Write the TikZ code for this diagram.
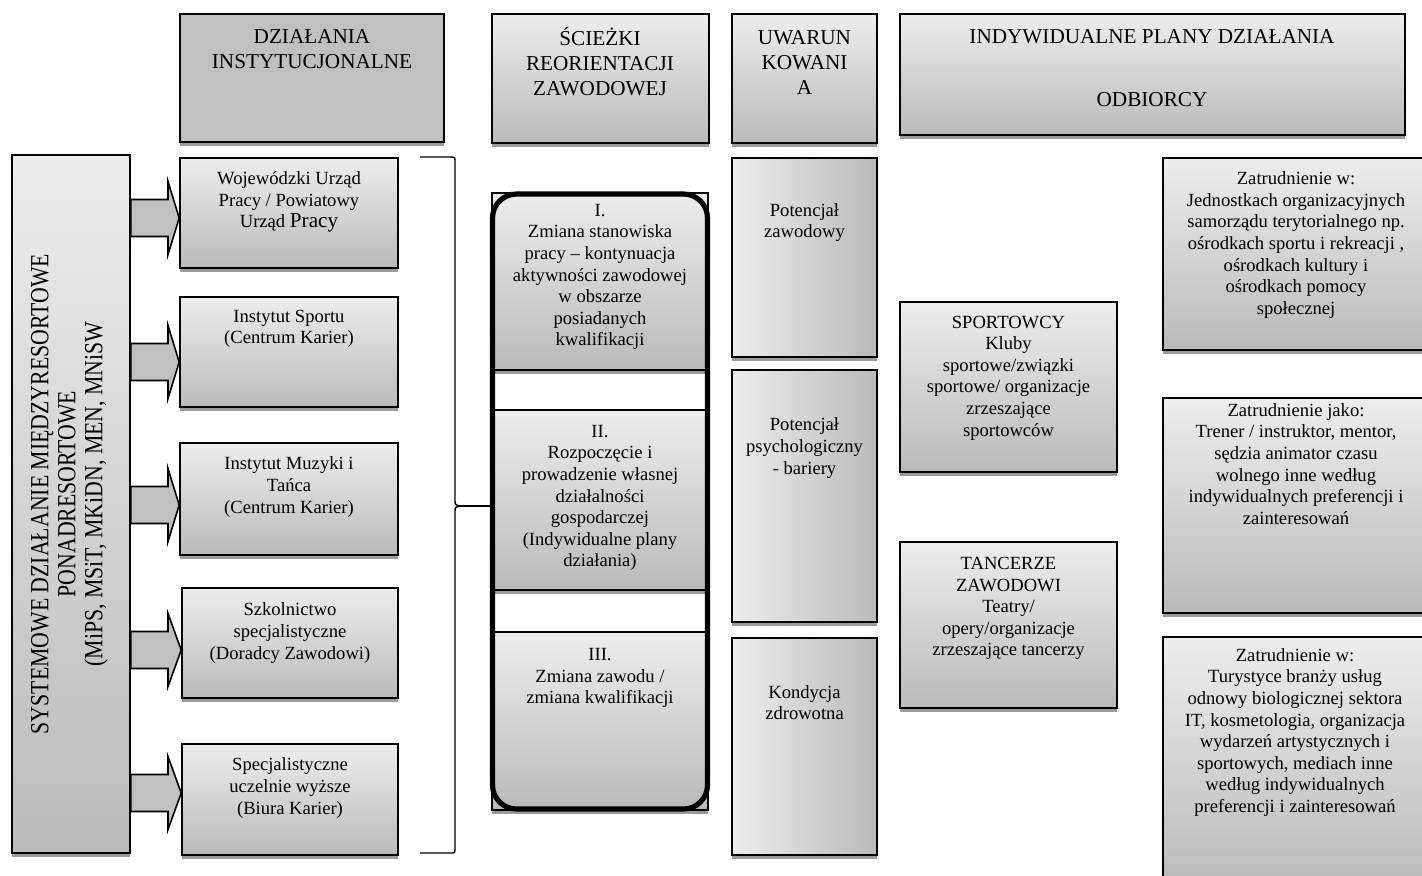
\documentclass[tikz,border=0pt]{standalone}
\usepackage{fontspec}
\setmainfont{Liberation Serif}
\usepackage{graphicx}
\usetikzlibrary{fit, shadows, positioning}

\definecolor{jasny}{RGB}{237,237,237}
\definecolor{ciemny}{RGB}{186,186,186}
\definecolor{szary}{RGB}{192,192,192}
\definecolor{cien}{RGB}{155,155,155}

\begin{document}
\begin{tikzpicture}[x=0.5pt, y=-0.5pt,
    pole/.style={draw, line width=0.8pt, inner sep=0pt,
      drop shadow={shadow xshift=0pt, shadow yshift=-1.8pt, fill=cien, opacity=1}},
    pion/.style={pole, top color=jasny, bottom color=ciemny},
    poziom/.style={pole, left color=jasny, right color=ciemny},
    ramka/.style={draw, line width=2.6pt, rounded corners=12pt, inner sep=0pt},
    opis/.style={align=center, inner sep=0pt, font=\fontsize{9.3}{10.8}\selectfont},
    naglowek/.style={align=center, inner sep=0pt, font=\fontsize{10.6}{12.5}\selectfont},
    strzalka/.style={draw, line width=0.8pt, fill=szary, line join=miter},
    klamra/.style={draw, line width=0.7pt}]
\useasboundingbox (0,0) rectangle (1422,875);
\clip (0,0) rectangle (1422,875);

% Naglowki kolumn
\node[pole, fill=szary, fit={(180,14) (444,142)}] (hd1) {};
\node[pion, fit={(492,14) (709,143)}] (hd2) {};
\node[pion, fit={(732,14) (877,143)}] (hd3) {};
\node[pion, fit={(900,14) (1405,135)}] (hd4) {};
\node[naglowek] (t1) at (312,49.5) {DZIAŁANIA\\INSTYTUCJONALNE};
\node[naglowek] (t2) at (600,62) {ŚCIEŻKI\\REORIENTACJI\\ZAWODOWEJ};
\node[naglowek] (t3) at (804.5,62) {UWARUN\\KOWANI\\A};
\node[naglowek] (t4a) at (1152,37) {INDYWIDUALNE PLANY DZIAŁANIA};
\node[naglowek] (t4b) at (1152,100) {ODBIORCY};

% Dzialanie systemowe
\node[pion, fit={(12,155) (130,853)}] (sys) {};
\node[rotate=90, inner sep=0pt, font=\fontsize{10.9}{11.25}\selectfont] (systxt) at (70,494)
  {\scalebox{1}[1.2]{\begin{tabular}{@{}c@{}}SYSTEMOWE DZIAŁANIE MIĘDZYRESORTOWE\\PONADRESORTOWE\\(MiPS, MSiT, MKiDN, MEN, MNiSW\end{tabular}}};

% Dzialania instytucjonalne
\node[pion, fit={(180,158) (398,268)}] (woj) {};
\node[pion, fit={(180,297) (398,407)}] (isp) {};
\node[pion, fit={(180,443) (398,555)}] (imt) {};
\node[pion, fit={(182,588) (398,698)}] (szk) {};
\node[pion, fit={(182,744) (398,855)}] (ucz) {};
\node[opis] (twoj) at (289,202) {Wojewódzki Urząd\\Pracy / Powiatowy\\Urząd {\fontsize{10.6}{10.8}\selectfont Pracy}};
\node[opis] (tisp) at (289,329) {Instytut Sportu\\(Centrum Karier)};
\node[opis] (timt) at (289,487) {Instytut Muzyki i\\Tańca\\(Centrum Karier)};
\node[opis] (tszk) at (290,633) {Szkolnictwo\\specjalistyczne\\(Doradcy Zawodowi)};
\node[opis] (tucz) at (290,788) {Specjalistyczne\\uczelnie wyższe\\(Biura Karier)};

% Strzalki blokowe
\foreach \cel/\y in {woj/218, isp/362, imt/505, szk/650, ucz/793}
  \draw[strzalka] (sys.east |- 0,\y-18.5) -- (168,\y-18.5) -- (168,\y-36.5) -- (\cel.west |- 0,\y)
    -- (168,\y+36.5) -- (168,\y+18.5) -- (sys.east |- 0,\y+18.5) -- cycle;

% Sciezki reorientacji
\node[pion, fit={(492,193) (708,370)}] (sc1) {};
\node[pion, fit={(492,410) (708,590)}] (sc2) {};
\node[pion, fit={(492,632) (708,810)}] (sc3) {};
\node[ramka, fit={(492.5,194) (707.5,809)}] (ramka) {};
\node[opis] (tsc1) at (600,277) {I.\\Zmiana stanowiska\\pracy – kontynuacja\\aktywności zawodowej\\w obszarze\\posiadanych\\kwalifikacji};
\node[opis] (tsc2) at (600,498) {II.\\Rozpoczęcie i\\prowadzenie własnej\\działalności\\gospodarczej\\(Indywidualne plany\\działania)};
\node[opis] (tsc3) at (600,678) {III.\\Zmiana zawodu /\\zmiana kwalifikacji};

% Klamra
\coordinate (szpic) at (461,506);
\draw[klamra] (420,157) -- (450,157) .. controls (455,157) .. (455,162) -- (455,500)
  .. controls (455,505) .. (szpic) .. controls (455,507) .. (455,512) -- (455,848)
  .. controls (455,853) .. (450,853) -- (420,853);
\draw[klamra] (szpic) -- (ramka.west |- szpic);

% Uwarunkowania
\node[poziom, fit={(732,158) (877,357)}] (pz) {};
\node[poziom, fit={(732,370) (877,622)}] (pp) {};
\node[poziom, fit={(732,638) (877,855)}] (kz) {};
\node[opis] (tpz) at (804.5,222.5) {Potencjał\\zawodowy};
\node[opis] (tpp) at (804.5,448) {Potencjał\\psychologiczny\\- bariery};
\node[opis] (tkz) at (804.5,702.5) {Kondycja\\zdrowotna};

% Odbiorcy
\node[pion, fit={(900,302) (1117,472)}] (spo) {};
\node[pion, fit={(900,542) (1117,708)}] (tan) {};
\node[opis] (tspo) at (1008.5,378) {SPORTOWCY\\Kluby\\sportowe/związki\\sportowe/ organizacje\\zrzeszające\\sportowców};
\node[opis] (ttan) at (1008.5,608.5) {TANCERZE\\ZAWODOWI\\Teatry/\\opery/organizacje\\zrzeszające tancerzy};

% Indywidualne plany dzialania
\node[pion, fit={(1163,158) (1430,350)}] (za) {};
\node[pion, fit={(1163,398) (1430,613)}] (zb) {};
\node[pion, fit={(1163,637) (1430,885)}] (zc) {};
\node[opis] (tza) at (1296,245) {Zatrudnienie w:\\Jednostkach organizacyjnych\\samorządu terytorialnego np.\\ośrodkach sportu i rekreacji ,\\ośrodkach kultury i\\ośrodkach pomocy\\społecznej};
\node[opis] (tzb) at (1296,464) {Zatrudnienie jako:\\Trener / instruktor, mentor,\\sędzia animator czasu\\wolnego inne według\\indywidualnych preferencji i\\zainteresowań};
\node[opis] (tzc) at (1295,732.5) {Zatrudnienie w:\\Turystyce branży usług\\odnowy biologicznej sektora\\IT, kosmetologia, organizacja\\wydarzeń artystycznych i\\sportowych, mediach inne\\według indywidualnych\\preferencji i zainteresowań};
\end{tikzpicture}
\end{document}
